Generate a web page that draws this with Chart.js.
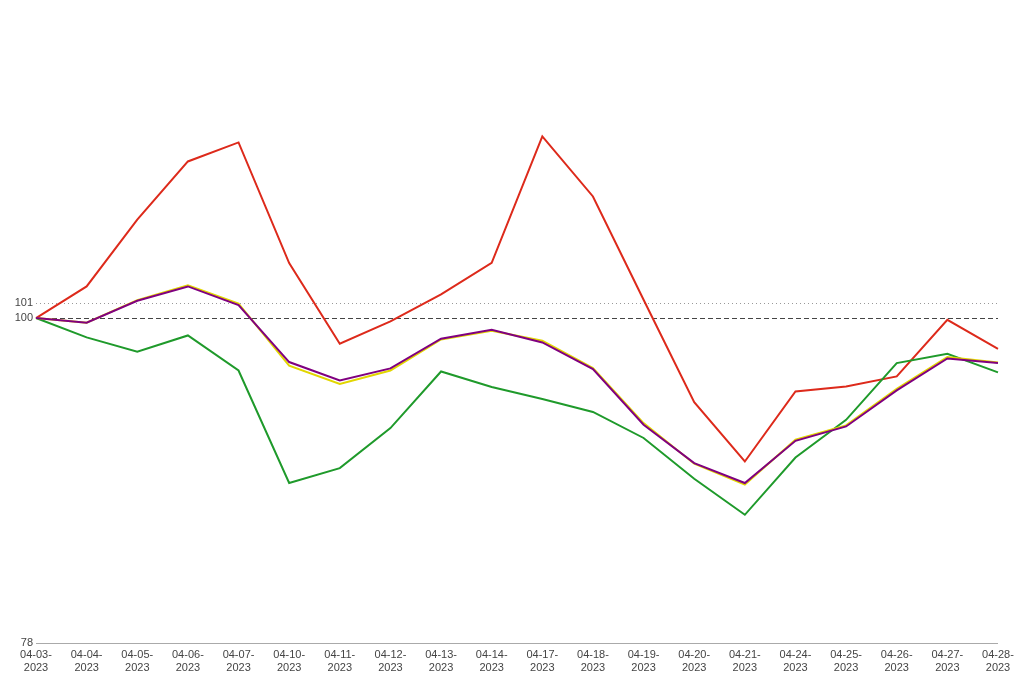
<!DOCTYPE html>
<html>
<head>
<meta charset="utf-8">
<script src="https://cdn.jsdelivr.net/npm/chart.js@4.4.1/dist/chart.umd.min.js"></script>
<style>
  html, body { margin: 0; padding: 0; background: #fff; }
  #chart { display: block; }
</style>
</head>
<body>
<canvas id="chart" width="1017" height="675"></canvas>
<script>
// --- DATA ---
const dates = ['04-03', '04-04', '04-05', '04-06', '04-07', '04-10', '04-11', '04-12', '04-13', '04-14',
  '04-17', '04-18', '04-19', '04-20', '04-21', '04-24', '04-25', '04-26', '04-27', '04-28'];
const year = '2023';

const redSeries = [100, 102.14, 106.66, 110.60, 111.89, 103.72, 98.26, 99.77, 101.60, 103.74,
  112.30, 108.23, 101.24, 94.31, 90.29, 95.03, 95.37, 96.05, 99.88, 97.92];
const greenSeries = [100, 98.69, 97.72, 98.82, 96.45, 88.83, 89.84, 92.55, 96.38, 95.33,
  94.52, 93.64, 91.88, 89.12, 86.68, 90.56, 93.11, 96.95, 97.58, 96.32];
const yellowSeries = [100, 99.68, 101.21, 102.21, 100.97, 96.77, 95.53, 96.45, 98.55, 99.14,
  98.46, 96.61, 92.89, 90.14, 88.73, 91.76, 92.73, 95.21, 97.36, 96.99];
const purpleSeries = [100, 99.68, 101.17, 102.14, 100.88, 97.02, 95.78, 96.59, 98.60, 99.21,
  98.35, 96.55, 92.78, 90.18, 88.83, 91.69, 92.66, 95.10, 97.26, 96.95];

const yTicks = [78, 100, 101];
const yMin = 78;
const yMax = 120.9;

// --- CHART ---
const labels = dates.map(d => [d + '-', year]);
const font = { family: '"Liberation Sans", Arial, sans-serif', size: 11, lineHeight: 1.15 };

function lineSet(data, color) {
  return {
    data: data,
    borderColor: color,
    backgroundColor: color,
    borderWidth: 2,
    pointRadius: 0,
    tension: 0,
    fill: false
  };
}

new Chart(document.getElementById('chart'), {
  type: 'line',
  data: {
    labels: labels,
    datasets: [
      lineSet(purpleSeries, '#800080'),
      lineSet(yellowSeries, '#e2d600'),
      lineSet(greenSeries, '#1f9a2b'),
      lineSet(redSeries, '#dd2a1b')
    ]
  },
  options: {
    responsive: false,
    animation: false,
    layout: { padding: { top: 0, right: 19, bottom: 0, left: 0 } },
    plugins: { legend: { display: false }, tooltip: { enabled: false } },
    scales: {
      x: {
        offset: false,
        grid: { display: false, drawTicks: false },
        border: { display: false },
        ticks: { color: '#444', font: font, maxRotation: 0, autoSkip: false, padding: 6 },
        afterFit: scale => {
          scale.height = 32;
          scale.paddingLeft = 0;
          scale.paddingRight = 0;
        }
      },
      y: {
        min: yMin,
        max: yMax,
        afterBuildTicks: scale => { scale.ticks = yTicks.map(v => ({ value: v })); },
        afterFit: scale => { scale.width = 36; },
        ticks: { color: '#444', font: font, padding: 3 },
        grid: {
          drawTicks: false,
          lineWidth: 1,
          color: ctx => {
            const v = ctx.tick && ctx.tick.value;
            if (v === 100) return '#444';
            if (v === 101) return '#999';
            return '#aaa';
          }
        },
        border: {
          display: false,
          dash: ctx => {
            const v = ctx.tick && ctx.tick.value;
            if (v === 100) return [5, 3];
            if (v === 101) return [1, 3];
            return [];
          }
        }
      }
    }
  }
});
</script>
</body>
</html>
